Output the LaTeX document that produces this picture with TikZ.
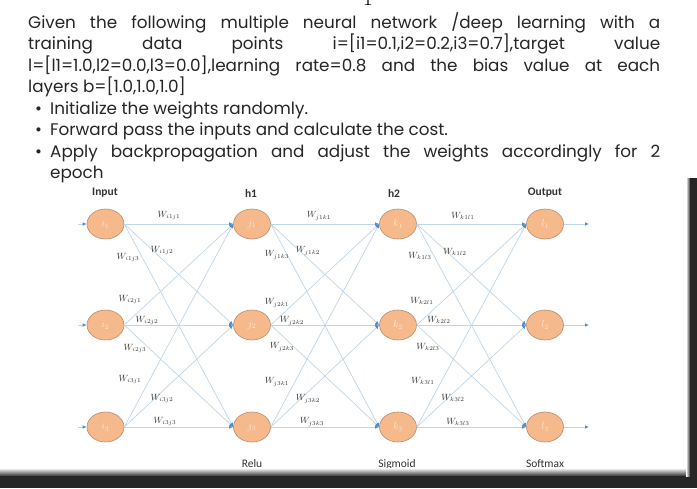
\documentclass[tikz,border=0pt]{standalone}
\usepackage{fontspec}
\usetikzlibrary{arrows.meta,shapes.geometric}
\newfontfamily\gothic{Poppins}
\newfontfamily\calib{Carlito}
\definecolor{nodefill}{RGB}{245,185,140}
\definecolor{nodedraw}{RGB}{185,140,110}
\definecolor{edgecol}{RGB}{190,214,236}
\definecolor{tipcol}{RGB}{80,140,205}
\definecolor{lblcol}{RGB}{55,55,55}
\definecolor{nlab}{RGB}{252,232,215}
\begin{document}
\begin{tikzpicture}[x=1pt,y=-1pt,
  neuron/.style={ellipse, draw=nodedraw, fill=nodefill, line width=0.6pt,
    minimum width=37pt, minimum height=30pt, inner sep=0pt, text=nlab,
    font=\fontsize{10}{10}\selectfont},
  conn/.style={draw=edgecol, line width=0.7pt, -{Latex[length=4pt,width=3.5pt,color=tipcol]}},
  wlab/.style={text=lblcol, font=\fontsize{9}{9}\selectfont, inner sep=0pt},
  para/.style={anchor=base west, inner sep=0pt, font=\gothic\fontsize{16.8}{16.8}\selectfont, text=black!85},
  head/.style={font=\calib\bfseries\fontsize{11.5}{11.5}\selectfont, text=black!80, inner sep=0pt},
  foot/.style={font=\calib\fontsize{11.5}{11.5}\selectfont, text=black!80, inner sep=0pt}]
\useasboundingbox (0,0) rectangle (697,488);
\fill[white] (0,0) rectangle (697,488);
% cut-off glyph at top
\node[anchor=base, inner sep=0pt, font=\fontsize{22}{22}\selectfont] (one) at (368,5) {1};
% paragraph
\node[para] (t1) at (28,28) {\makebox[632pt][s]{Given the following multiple neural network /deep learning with a}};
\node[para] (t2) at (28,49.5) {\makebox[632pt][s]{training data points i=[i1=0.1,i2=0.2,i3=0.7],target value}};
\node[para] (t3) at (28,71) {\makebox[632pt][s]{l=[l1=1.0,l2=0.0,l3=0.0],learning rate=0.8 and the bias value at each}};
\node[para] (t4) at (28,92.5) {layers b=[1.0,1.0,1.0]};
\node[para] (b1) at (35,114) {\textbullet};
\node[para] (s1) at (50,114) {Initialize the weights randomly.};
\node[para] (b2) at (35,135.5) {\textbullet};
\node[para] (s2) at (50,135.5) {Forward pass the inputs and calculate the cost.};
\node[para] (b3) at (35,157) {\textbullet};
\node[para] (s3) at (50,157) {\makebox[610pt][s]{Apply backpropagation and adjust the weights accordingly for 2}};
\node[para] (s4) at (50,178.5) {epoch};
% headers
\node[head] (hin) at (105,193) {Input};
\node[head] (hh1) at (251,193) {h1};
\node[head] (hh2) at (394,193) {h2};
\node[head] (hout) at (545,193) {Output};
\node[foot] (frelu) at (252,464) {Relu};
\node[foot] (fsig) at (397,464) {Sigmoid};
\node[foot] (fsoft) at (545,464) {Softmax};
% neurons
\foreach \n/\y in {1/224,2/325,3/427}{
  \node[neuron] (i\n) at (105.5,\y) {$i_{\n}$};
  \node[neuron] (j\n) at (252,\y) {$j_{\n}$};
  \node[neuron] (k\n) at (398,\y) {$k_{\n}$};
  \node[neuron] (l\n) at (545,\y) {$l_{\n}$};
  \coordinate (in\n) at (78,\y);
  \coordinate (out\n) at (589,\y);
}
% connections
\foreach \a in {1,2,3}{
  \draw[conn] (in\a) -- (i\a.west);
  \draw[conn] (l\a.east) -- (out\a);
  \foreach \b in {1,2,3}{
    \draw[conn] (i\a.east) -- (j\b.west);
    \draw[conn] (j\a.east) -- (k\b.west);
    \draw[conn] (k\a.east) -- (l\b.west);
  }
}
% weight labels input -> h1
\node[wlab] (wi1j1) at (169,216) {$W_{i1j1}$};
\node[wlab] (wi1j3) at (128,258) {$W_{i1j3}$};
\node[wlab] (wi1j2) at (162,251) {$W_{i1j2}$};
\node[wlab] (wi2j1) at (130,300) {$W_{i2j1}$};
\node[wlab] (wi2j2) at (147,321) {$W_{i2j2}$};
\node[wlab] (wi2j3) at (135,349) {$W_{i2j3}$};
\node[wlab] (wi3j1) at (130,380) {$W_{i3j1}$};
\node[wlab] (wi3j2) at (162,399) {$W_{i3j2}$};
\node[wlab] (wi3j3) at (165,422) {$W_{i3j3}$};
% h1 -> h2
\node[wlab] (wj1k1) at (319,216) {$W_{j1k1}$};
\node[wlab] (wj1k3) at (277,255) {$W_{j1k3}$};
\node[wlab] (wj1k2) at (308,251) {$W_{j1k2}$};
\node[wlab] (wj2k1) at (277,303) {$W_{j2k1}$};
\node[wlab] (wj2k2) at (292,321) {$W_{j2k2}$};
\node[wlab] (wj2k3) at (282,347) {$W_{j2k3}$};
\node[wlab] (wj3k1) at (277,382) {$W_{j3k1}$};
\node[wlab] (wj3k2) at (308,399) {$W_{j3k2}$};
\node[wlab] (wj3k3) at (312,422) {$W_{j3k3}$};
% h2 -> output
\node[wlab] (wk1l1) at (463,216) {$W_{k1l1}$};
\node[wlab] (wk1l3) at (420,256) {$W_{k1l3}$};
\node[wlab] (wk1l2) at (455,252) {$W_{k1l2}$};
\node[wlab] (wk2l1) at (422,301) {$W_{k2l1}$};
\node[wlab] (wk2l2) at (439,320) {$W_{k2l2}$};
\node[wlab] (wk2l3) at (428,347) {$W_{k2l3}$};
\node[wlab] (wk3l1) at (423,381) {$W_{k3l1}$};
\node[wlab] (wk3l2) at (453,398) {$W_{k3l2}$};
\node[wlab] (wk3l3) at (458,422) {$W_{k3l3}$};
% dark frame
\shade[top color=white, bottom color=black!80] (0,468) rectangle (697,476);
\fill[black!85] (0,476) rectangle (697,488);
\shade[left color=white, right color=black!80] (686,178) rectangle (690,476);
\fill[black!85] (690,178) rectangle (697,488);
\end{tikzpicture}
\end{document}
